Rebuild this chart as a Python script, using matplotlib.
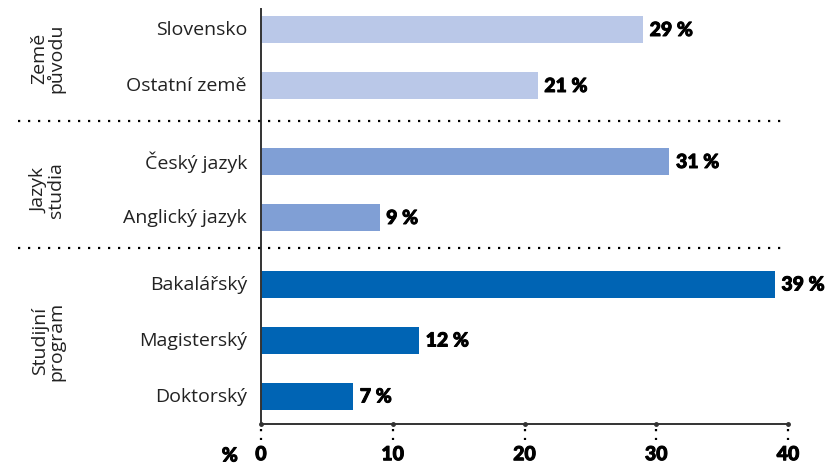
import matplotlib.pyplot as plt
import matplotlib.transforms as mtransforms
import matplotlib.patheffects as pe

plt.rcParams['font.family'] = ['Open Sans', 'DejaVu Sans']

# hodnoty v procentech
kategorie = ['Slovensko', 'Ostatní země', 'Český jazyk', 'Anglický jazyk',
             'Bakalářský', 'Magisterský', 'Doktorský']
hodnoty = [29, 21, 31, 9, 39, 12, 7]
skupiny = ['Země\npůvodu', 'Jazyk\nstudia', 'Studijní\nprogram']
velikost_skupin = [2, 2, 3]
barvy_skupin = ['#BAC8E8', '#809FD5', '#0064B4']
xticks = [0, 10, 20, 30, 40]

W, H = 834, 464
fig = plt.figure(figsize=(W / 100, H / 100), dpi=100)
ax = fig.add_axes([261 / W, 1 - 425 / H, (788 - 261) / W, (425 - 10) / H])

# pozice pruhu v pixelech od horniho okraje
zacatky_skupin = [30.5, 162.5, 285]
krok = 56
ys, barvy, stredy = [], [], []
for g, n in enumerate(velikost_skupin):
    for i in range(n):
        ys.append(zacatky_skupin[g] + i * krok)
        barvy.append(barvy_skupin[g])
    stredy.append(zacatky_skupin[g] + (n - 1) * krok / 2)
predely = [(ys[1] + ys[2]) / 2 - 2.5, (ys[3] + ys[4]) / 2 - 2.5]

ax.barh(ys, hodnoty, height=27, color=barvy)
ax.set_xlim(0, 40)
ax.set_ylim(425, 10)

# tucne popisky trochu zesilene obrysem
tlusty = [pe.withStroke(linewidth=0.7, foreground='black')]
bold = dict(fontsize=14, fontweight=900, family=['Lato', 'DejaVu Sans'],
            path_effects=tlusty)
for yy, v in zip(ys, hodnoty):
    ax.text(v + 0.5, yy + 1, f'{v} %', va='center', ha='left', **bold)

for s in ['top', 'right']:
    ax.spines[s].set_visible(False)
for s in ['left', 'bottom']:
    ax.spines[s].set_color('#333333')
    ax.spines[s].set_linewidth(1.4)

ax.set_yticks([])
ax.set_xticks(xticks)
ax.tick_params(axis='x', length=0, pad=16)
for lbl in ax.get_xticklabels():
    lbl.set_fontweight(900)
    lbl.set_fontsize(14)
    lbl.set_family(['Lato', 'DejaVu Sans'])
    lbl.set_path_effects(tlusty)

# teckovane znacky pod osou x
trans_x = mtransforms.blended_transform_factory(ax.transData, fig.transFigure)
for t in xticks:
    ax.plot([t, t], [1 - 430 / H, 1 - 441 / H], transform=trans_x,
            color='black', linestyle=(0, (1, 3)), linewidth=1.6, clip_on=False)
    ax.plot([t], [1 - 425 / H], transform=trans_x, marker='o', markersize=2.5,
            color='#333333', clip_on=False)

fig.text(238 / W, 1 - 457 / H, '%', ha='right', va='center', **bold)

# popisky kategorii a skupin
trans_y = mtransforms.blended_transform_factory(fig.transFigure, ax.transData)
for yy, k in zip(ys, kategorie):
    fig.text(247 / W, yy, k, ha='right', va='center', fontsize=14,
             transform=trans_y, color='#222222')
for st, sk in zip(stredy, skupiny):
    fig.text(48 / W, st, sk, ha='center', va='center', rotation=90,
             fontsize=14, linespacing=0.9, transform=trans_y, color='#222222')

# teckovane predely mezi skupinami
for p in predely:
    fig.add_artist(plt.Line2D([18 / W, 788 / W], [1 - p / H, 1 - p / H],
                              color='black', linestyle=(0, (1, 3.5)),
                              linewidth=1.6))

fig.savefig('out.png', dpi=100)
